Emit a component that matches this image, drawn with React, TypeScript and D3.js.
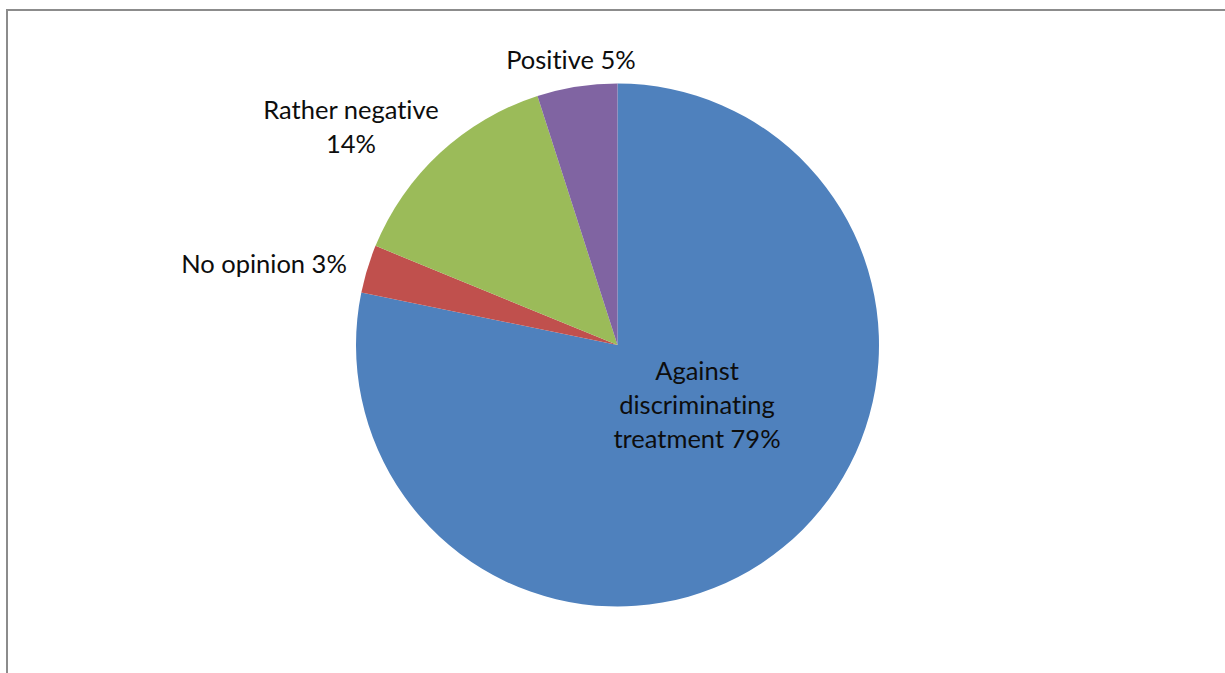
import React from "react";
import * as d3 from "d3";

const categories = ["Against discriminating treatment", "No opinion", "Rather negative", "Positive"];
const values = [79, 3, 14, 5];
const colors = ["#4F81BD", "#C0504D", "#9BBB59", "#8064A2"];
// Label text lines per slice
const labelLines = [
  ["Against", "discriminating", "treatment 79%"],
  ["No opinion 3%"],
  ["Rather negative", "14%"],
  ["Positive 5%"],
];
// Label anchor (center of the text block) positions
const labelPos: [number, number][] = [
  [697, 405],
  [264, 264],
  [351, 127],
  [571, 60],
];

const W = 1225;
const H = 673;
const cx = 617.5;
const cy = 345;
const R = 261.5;
const lineH = 34;

export default function App() {
  const pie = d3
    .pie<number>()
    .sort(null)
    .value((d) => d)
    .startAngle(0)
    .endAngle(2 * Math.PI);
  const arcs = pie(values);
  const arc = d3.arc<d3.PieArcDatum<number>>().innerRadius(0).outerRadius(R);

  return (
    <svg
      width={W}
      height={H}
      style={{ position: "absolute", left: 0, top: 0, background: "#fff", fontVariantLigatures: "none" }}
      fontFamily="Lato, 'Open Sans', sans-serif"
    >
      <rect x={7} y={10} width={W + 10} height={H + 10} fill="#fff" stroke="#8c8c8c" strokeWidth={2} />
      <g transform={`translate(${cx},${cy})`}>
        {arcs.map((a, i) => (
          <path key={categories[i]} d={arc(a) || ""} fill={colors[i]} />
        ))}
      </g>
      {labelLines.map((lines, i) => {
        const [lx, ly] = labelPos[i];
        const top = ly - ((lines.length - 1) * lineH) / 2;
        return (
          <text key={i} textAnchor="middle" fontSize={25.5} fill="#0d0d0d">
            {lines.map((t, j) => (
              <tspan key={j} x={lx} y={top + j * lineH} dy="0.35em">
                {t}
              </tspan>
            ))}
          </text>
        );
      })}
    </svg>
  );
}
